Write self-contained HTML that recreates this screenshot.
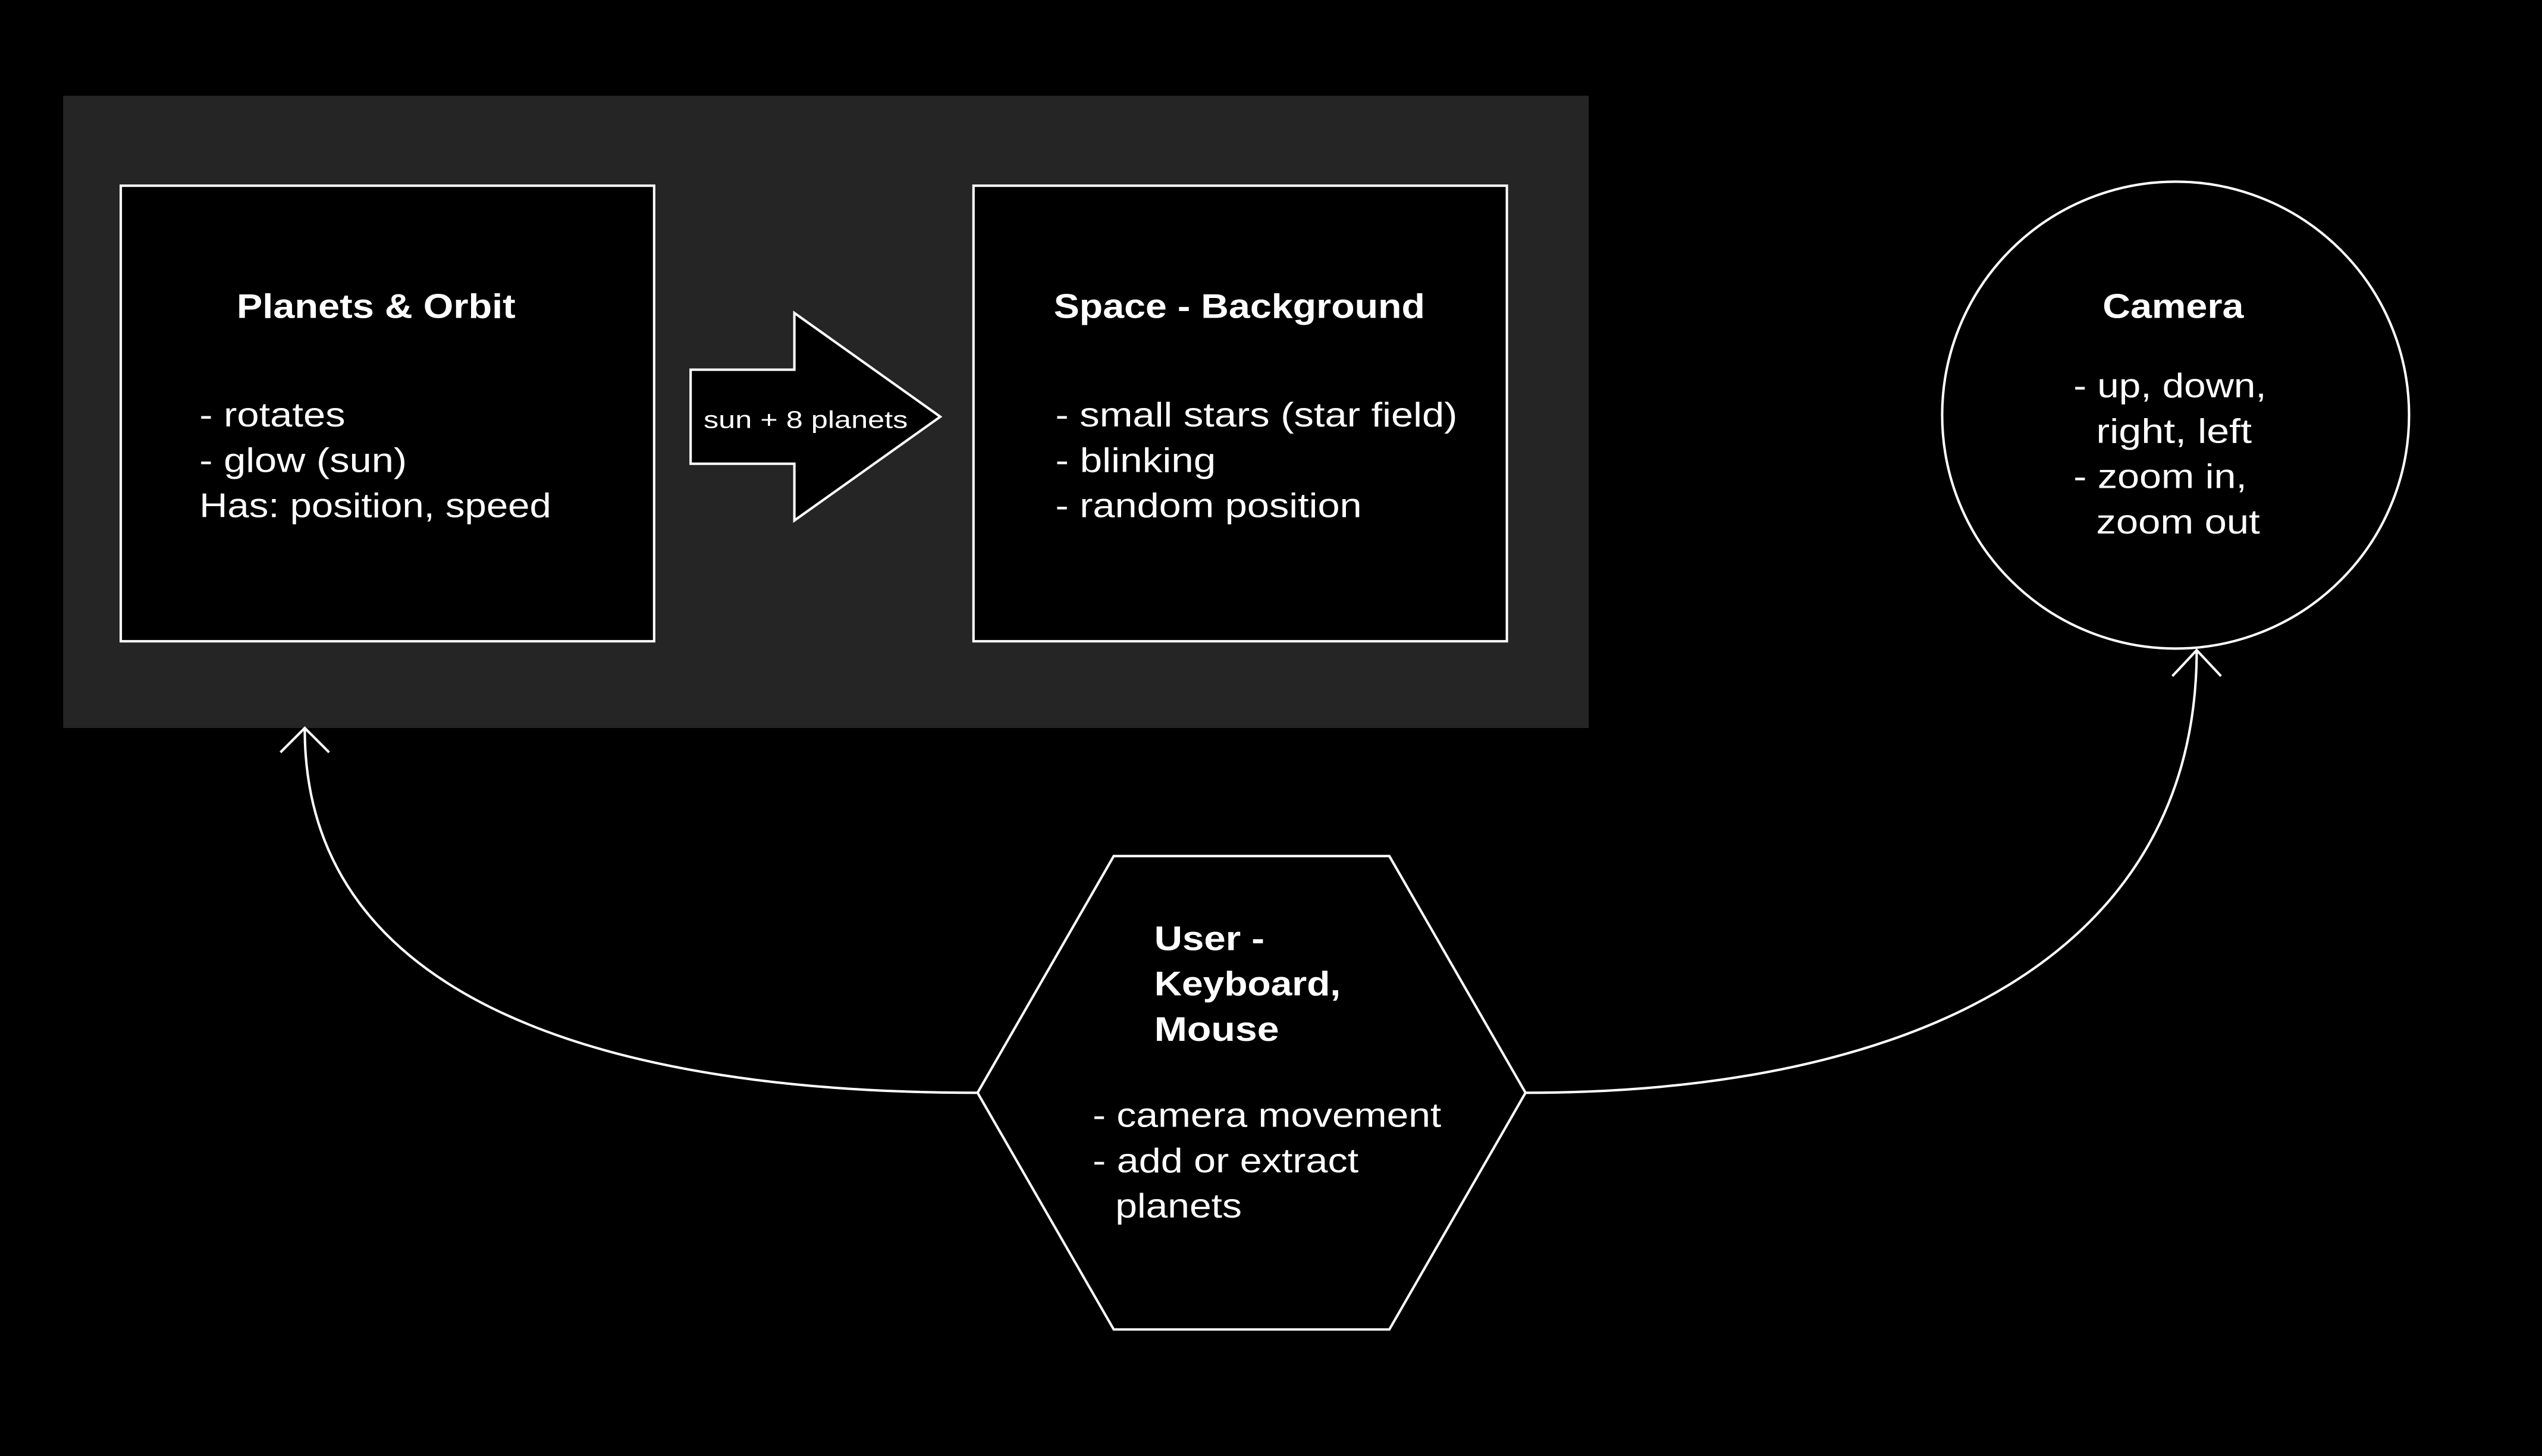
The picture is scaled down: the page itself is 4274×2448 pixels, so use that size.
<!DOCTYPE html>
<html><head><meta charset="utf-8"><style>
html,body{margin:0;padding:0;background:#000;}
svg{display:block;}
text{font-family:"Liberation Sans",sans-serif;fill:#fff;}
.t{font-weight:bold;font-size:21px;}
.b{font-size:21px;}
</style></head><body>
<svg width="4274" height="2448" viewBox="0 0 1568 898" xmlns="http://www.w3.org/2000/svg">
<rect x="0" y="0" width="1568" height="898" fill="#000"/>
<rect x="39" y="59" width="941" height="390" fill="#252525"/>
<rect x="74.5" y="114.5" width="329" height="281" fill="#000" stroke="#fff" stroke-width="1.5"/>
<rect x="600.5" y="114.5" width="329" height="281" fill="#000" stroke="#fff" stroke-width="1.5"/>
<polygon points="426,228 490,228 490,193 580,257 490,321 490,286 426,286" fill="#000" stroke="#fff" stroke-width="1.5"/>
<text x="434" y="264" style="font-size:15px" textLength="126" lengthAdjust="spacingAndGlyphs">sun + 8 planets</text>
<text class="t" x="146" y="196" textLength="172" lengthAdjust="spacingAndGlyphs">Planets &amp; Orbit</text>
<text class="b" x="123" y="263" textLength="90" lengthAdjust="spacingAndGlyphs">- rotates</text>
<text class="b" x="123" y="291" textLength="128" lengthAdjust="spacingAndGlyphs">- glow (sun)</text>
<text class="b" x="123" y="319" textLength="217" lengthAdjust="spacingAndGlyphs">Has: position, speed</text>
<text class="t" x="650" y="196" textLength="229" lengthAdjust="spacingAndGlyphs">Space - Background</text>
<text class="b" x="651" y="263" textLength="248" lengthAdjust="spacingAndGlyphs">- small stars (star field)</text>
<text class="b" x="651" y="291" textLength="99" lengthAdjust="spacingAndGlyphs">- blinking</text>
<text class="b" x="651" y="319" textLength="189" lengthAdjust="spacingAndGlyphs">- random position</text>
<circle cx="1342" cy="256" r="144" fill="#000" stroke="#fff" stroke-width="1.5"/>
<text class="t" x="1297" y="196" textLength="87" lengthAdjust="spacingAndGlyphs">Camera</text>
<text class="b" x="1279" y="245" textLength="119" lengthAdjust="spacingAndGlyphs">- up, down,</text>
<text class="b" x="1293" y="273" textLength="96" lengthAdjust="spacingAndGlyphs">right, left</text>
<text class="b" x="1279" y="301" textLength="107" lengthAdjust="spacingAndGlyphs">- zoom in,</text>
<text class="b" x="1293" y="329" textLength="101" lengthAdjust="spacingAndGlyphs">zoom out</text>
<polygon points="687,528 857,528 941,674 857,820 687,820 603,674" fill="#000" stroke="#fff" stroke-width="1.5"/>
<text class="t" x="712" y="586" textLength="68" lengthAdjust="spacingAndGlyphs">User -</text>
<text class="t" x="712" y="614" textLength="115" lengthAdjust="spacingAndGlyphs">Keyboard,</text>
<text class="t" x="712" y="642" textLength="77" lengthAdjust="spacingAndGlyphs">Mouse</text>
<text class="b" x="674" y="695" textLength="215" lengthAdjust="spacingAndGlyphs">- camera movement</text>
<text class="b" x="674" y="723" textLength="164" lengthAdjust="spacingAndGlyphs">- add or extract</text>
<text class="b" x="688" y="751" textLength="78" lengthAdjust="spacingAndGlyphs">planets</text>
<path d="M603,674 C380,674 188,620 188,450" fill="none" stroke="#fff" stroke-width="1.5"/>
<path d="M173,464 L188,449 L203,464" fill="none" stroke="#fff" stroke-width="1.5"/>
<path d="M941,674 C1180,674 1355,590 1355,401" fill="none" stroke="#fff" stroke-width="1.5"/>
<path d="M1340,417 L1355,401 L1370,417" fill="none" stroke="#fff" stroke-width="1.5"/>
</svg>
</body></html>
